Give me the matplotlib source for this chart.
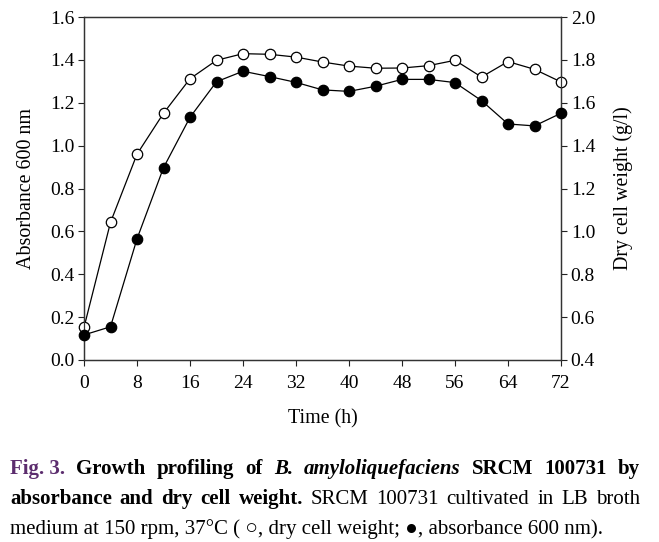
import matplotlib
matplotlib.use('Agg')
import matplotlib.pyplot as plt
from matplotlib.ticker import MultipleLocator

plt.rcParams['font.family'] = ['Liberation Serif', 'DejaVu Serif']

# ── data ──
time_h = [0, 4, 8, 12, 16, 20, 24, 28, 32, 36, 40, 44, 48, 52, 56, 60, 64, 68, 72]
absorbance = [0.117, 0.155, 0.565, 0.897, 1.132, 1.298, 1.347, 1.322, 1.295, 1.260,
              1.253, 1.277, 1.309, 1.309, 1.294, 1.210, 1.101, 1.092, 1.151]
dcw = [0.552, 1.042, 1.360, 1.551, 1.712, 1.798, 1.829, 1.826, 1.813, 1.790,
       1.771, 1.761, 1.762, 1.773, 1.798, 1.720, 1.792, 1.756, 1.697]
xticks = list(range(0, 73, 8))

W, H = 659, 542
fig = plt.figure(figsize=(W/100, H/100), dpi=100)
ax = fig.add_axes([84/W, 1-360/H, (561-84)/W, (360-17)/H])
ax2 = ax.twinx()

FS = 14
ax.plot(time_h, absorbance, '-o', color='black', lw=0.9, ms=7.5,
        mfc='black', mec='black', mew=0.9, clip_on=False, zorder=3)
ax2.plot(time_h, dcw, '-o', color='black', lw=0.9, ms=7.5,
         mfc='white', mec='black', mew=0.9, clip_on=False, zorder=4)
ax.set_zorder(ax2.get_zorder() + 1); ax.patch.set_visible(False)

ax.set_xlim(0, 72); ax.set_ylim(0, 1.6)
ax2.set_ylim(0.4, 2.0)
ax.set_xticks(xticks)
ax.yaxis.set_major_locator(MultipleLocator(0.2))
ax2.yaxis.set_major_locator(MultipleLocator(0.2))
ax.yaxis.set_major_formatter(plt.FuncFormatter(lambda v, p: f"{v:.1f}"))
ax2.yaxis.set_major_formatter(plt.FuncFormatter(lambda v, p: f"{v:.1f}"))

for a in (ax, ax2):
    a.tick_params(direction='out', length=4, width=0.8, labelsize=FS, pad=3, colors='#222222',
                  labelcolor='black')
    for s in a.spines.values():
        s.set_linewidth(0.9); s.set_color('#333333')
ax.tick_params(axis='x', pad=7)

ax.set_xlabel('Time (h)', fontsize=FS+0.4, labelpad=12)
ax.set_ylabel('Absorbance 600 nm', fontsize=FS+0.4, labelpad=10)
ax2.set_ylabel('Dry cell weight (g/l)', fontsize=FS+0.4, labelpad=13)

# ── caption ──
CFS = 15
purple = '#5c2d6e'
lines = [
    ([('Fig. 3.', 'bold', 'normal', purple), ('Growth', 'bold', 'normal', 'k'),
      ('profiling', 'bold', 'normal', 'k'), ('of', 'bold', 'normal', 'k'),
      ('B.', 'bold', 'italic', 'k'), ('amyloliquefaciens', 'bold', 'italic', 'k'),
      ('SRCM', 'bold', 'normal', 'k'), ('100731', 'bold', 'normal', 'k'),
      ('by', 'bold', 'normal', 'k')], 474, True),
    ([('absorbance', 'bold', 'normal', 'k'), ('and', 'bold', 'normal', 'k'),
      ('dry', 'bold', 'normal', 'k'), ('cell', 'bold', 'normal', 'k'),
      ('weight.', 'bold', 'normal', 'k'), ('SRCM', 'normal', 'normal', 'k'),
      ('100731', 'normal', 'normal', 'k'), ('cultivated', 'normal', 'normal', 'k'),
      ('in', 'normal', 'normal', 'k'), ('LB', 'normal', 'normal', 'k'),
      ('broth', 'normal', 'normal', 'k')], 504, True),
    ([('medium at 150 rpm, 37°C ( \u25cb, dry cell weight; \u25cf, absorbance 600 nm).',
       'normal', 'normal', 'k')], 534, False),
]
x0, x1 = 10, 640
fig.canvas.draw()
r = fig.canvas.get_renderer()
for words, ybase, justify in lines:
    arts = []
    for txt, fw, st, c in words:
        t = fig.text(0, 1-ybase/H, txt, fontsize=CFS, fontweight=fw, fontstyle=st,
                     color=c, va='baseline', ha='left',
                     family=['Liberation Serif', 'DejaVu Serif'])
        arts.append(t)
    widths = [t.get_window_extent(r).width for t in arts]
    if justify and len(arts) > 1:
        gap = (x1 - x0 - sum(widths)) / (len(arts) - 1)
    else:
        gap = 4
    x = x0
    for t, w in zip(arts, widths):
        t.set_x(x / W)
        x += w + gap

fig.savefig('out.png', dpi=100)
